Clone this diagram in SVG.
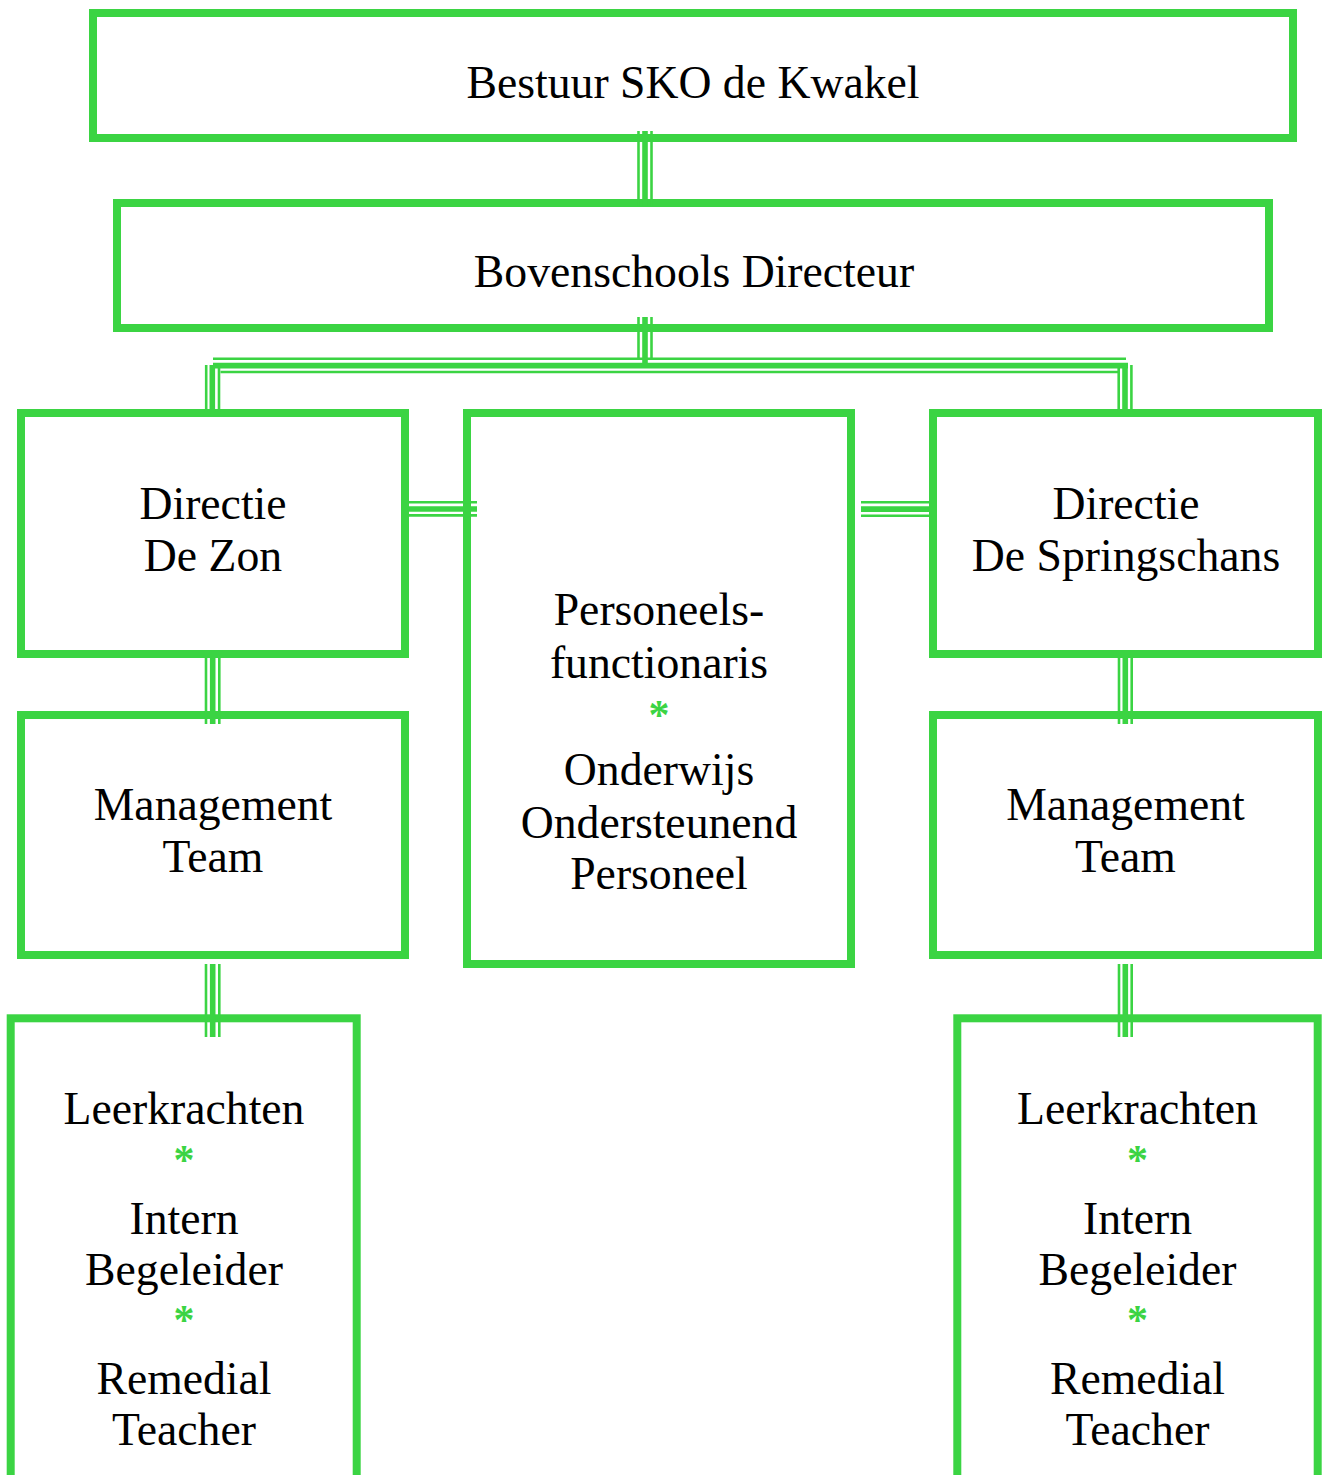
<svg xmlns="http://www.w3.org/2000/svg" width="1322" height="1475" viewBox="0 0 1322 1475">
<style>
.box{fill:#ffffff;stroke:#3bd443;stroke-width:8}
.t{font-family:"Liberation Serif",serif;font-size:45.7px;fill:#000;text-anchor:middle}
.ast{font-family:"Liberation Serif",serif;font-size:42px;font-weight:bold;fill:#3bd443;text-anchor:middle}
.thin{stroke:#3bd443;stroke-width:2.6;fill:none}
.thick{stroke:#3bd443;stroke-width:5.6;fill:none}
</style>
<rect width="1322" height="1475" fill="#ffffff"/>
<g id="node-bestuur"><rect class="box" x="93" y="13" width="1200" height="125"/><text class="t" x="693" y="97.5">Bestuur SKO de Kwakel</text></g>
<g id="node-bovenschools"><rect class="box" x="117" y="203" width="1152" height="125"/><text class="t" x="694" y="286.5">Bovenschools Directeur</text></g>
<g id="node-directie-zon"><rect class="box" x="21" y="413" width="384" height="241"/><text class="t" x="213" y="519">Directie</text><text class="t" x="213" y="570.5">De Zon</text></g>
<g id="node-personeel"><rect class="box" x="467" y="413" width="384" height="551"/><text class="t" x="659" y="625">Personeels-</text><text class="t" x="659" y="678">functionaris</text><text class="ast" x="659" y="729">*</text><text class="t" x="659" y="785">Onderwijs</text><text class="t" x="659" y="838">Ondersteunend</text><text class="t" x="659" y="889">Personeel</text></g>
<g id="node-directie-springschans"><rect class="box" x="933" y="413" width="385" height="241"/><text class="t" x="1126" y="519">Directie</text><text class="t" x="1126" y="570.5">De Springschans</text></g>
<g id="node-mt-zon"><rect class="box" x="21" y="715" width="384" height="240"/><text class="t" x="213" y="820">Management</text><text class="t" x="213" y="872">Team</text></g>
<g id="node-mt-springschans"><rect class="box" x="933" y="715" width="385" height="240"/><text class="t" x="1125.5" y="820">Management</text><text class="t" x="1125.5" y="872">Team</text></g>
<g id="node-leerkrachten-zon"><rect class="box" x="10.7" y="1018.3" width="346" height="480"/><text class="t" x="184" y="1124">Leerkrachten</text><text class="ast" x="184" y="1174">*</text><text class="t" x="184" y="1234">Intern</text><text class="t" x="184" y="1285">Begeleider</text><text class="ast" x="184" y="1334">*</text><text class="t" x="184" y="1394">Remedial</text><text class="t" x="184" y="1445">Teacher</text></g>
<g id="node-leerkrachten-springschans"><rect class="box" x="957.3" y="1018.3" width="360.4" height="480"/><text class="t" x="1137.5" y="1124">Leerkrachten</text><text class="ast" x="1137.5" y="1174">*</text><text class="t" x="1137.5" y="1234">Intern</text><text class="t" x="1137.5" y="1285">Begeleider</text><text class="ast" x="1137.5" y="1334">*</text><text class="t" x="1137.5" y="1394">Remedial</text><text class="t" x="1137.5" y="1445">Teacher</text></g>
<g id="connectors">
<g id="c-bestuur-boven"><line class="thin" x1="638.5" y1="131" x2="638.5" y2="206"/><line class="thick" x1="645" y1="131" x2="645" y2="206"/><line class="thin" x1="651.5" y1="131" x2="651.5" y2="206"/></g>
<g id="c-boven-bus"><line class="thin" x1="638.5" y1="317" x2="638.5" y2="358"/><line class="thick" x1="645" y1="317" x2="645" y2="365"/><line class="thin" x1="651.5" y1="317" x2="651.5" y2="358"/></g>
<g id="c-bus"><line class="thin" x1="213" y1="358.8" x2="1126" y2="358.8"/><line class="thick" x1="213" y1="365.6" x2="1128" y2="365.6"/><line class="thin" x1="220.5" y1="372" x2="1118" y2="372"/></g>
<g id="c-bus-zon"><line class="thin" x1="206.2" y1="365" x2="206.2" y2="412"/><line class="thick" x1="212.3" y1="365" x2="212.3" y2="412"/><line class="thin" x1="219" y1="365" x2="219" y2="412"/></g>
<g id="c-bus-springschans"><line class="thin" x1="1118.7" y1="368" x2="1118.7" y2="412"/><line class="thick" x1="1125" y1="365" x2="1125" y2="412"/><line class="thin" x1="1131.4" y1="365" x2="1131.4" y2="412"/></g>
<g id="c-zon-mt"><line class="thin" x1="206" y1="657" x2="206" y2="724"/><line class="thick" x1="212.7" y1="657" x2="212.7" y2="724"/><line class="thin" x1="219.3" y1="657" x2="219.3" y2="724"/></g>
<g id="c-spring-mt"><line class="thin" x1="1119" y1="657" x2="1119" y2="724"/><line class="thick" x1="1125.3" y1="657" x2="1125.3" y2="724"/><line class="thin" x1="1131.7" y1="657" x2="1131.7" y2="724"/></g>
<g id="c-mtzon-leer"><line class="thin" x1="206" y1="964" x2="206" y2="1037"/><line class="thick" x1="212.7" y1="964" x2="212.7" y2="1037"/><line class="thin" x1="219.3" y1="964" x2="219.3" y2="1037"/></g>
<g id="c-mtspring-leer"><line class="thin" x1="1119" y1="964" x2="1119" y2="1037"/><line class="thick" x1="1125.3" y1="964" x2="1125.3" y2="1037"/><line class="thin" x1="1131.7" y1="964" x2="1131.7" y2="1037"/></g>
<g id="c-zon-personeel"><line class="thin" x1="409" y1="502.3" x2="477" y2="502.3"/><line class="thick" x1="409" y1="509" x2="477" y2="509"/><line class="thin" x1="409" y1="515.4" x2="477" y2="515.4"/></g>
<g id="c-personeel-spring"><line class="thin" x1="861" y1="502.2" x2="930" y2="502.2"/><line class="thick" x1="861" y1="509.1" x2="930" y2="509.1"/><line class="thin" x1="861" y1="515.8" x2="930" y2="515.8"/></g>
</g>
</svg>
